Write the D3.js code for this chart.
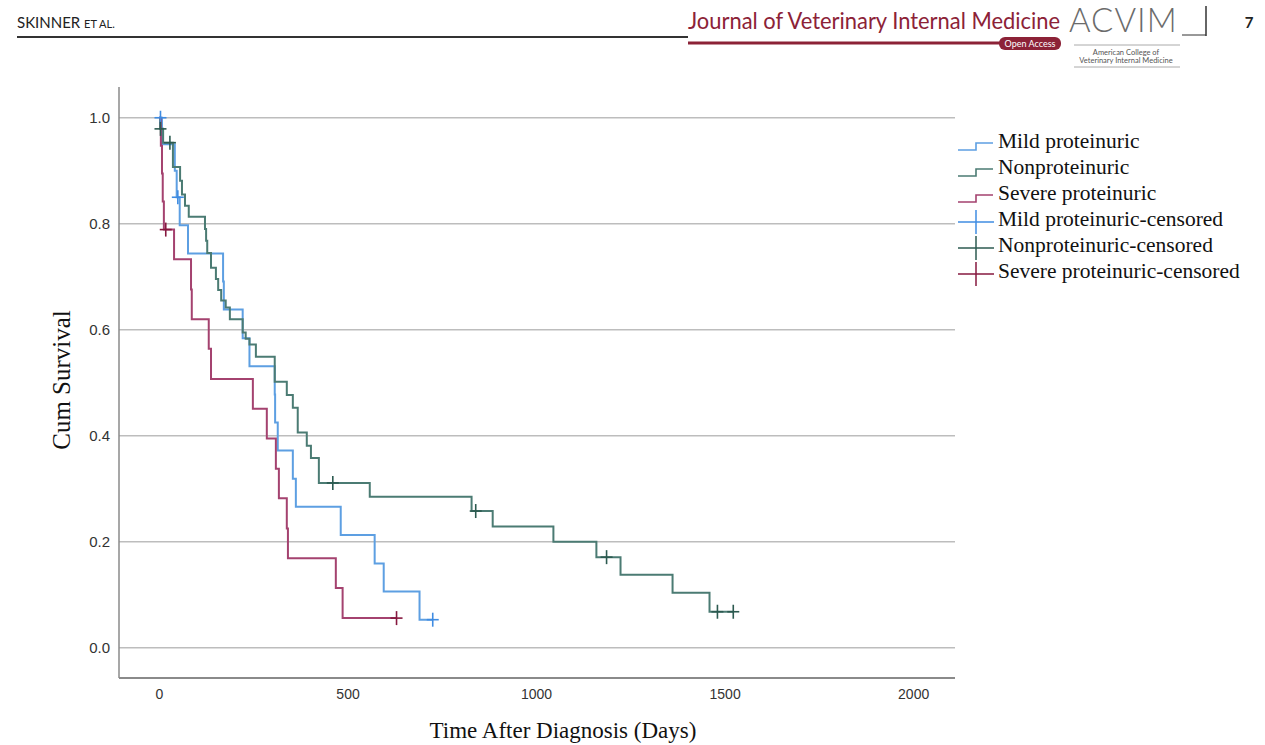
<!DOCTYPE html>
<html><head><meta charset="utf-8">
<script src="https://cdn.jsdelivr.net/npm/d3@7"></script>
<style>body{margin:0;background:#fff;}svg{display:block;}</style>
</head><body>
<svg id="chart" width="1265" height="745"></svg>
<script>
// ---------- data ----------
const xTicks = [0, 500, 1000, 1500, 2000];
const yTicks = [0.0, 0.2, 0.4, 0.6, 0.8, 1.0];
const xDomain = [-106, 2111];
const yDomain = [-0.057, 1.058];

const seriesNames = ["Mild proteinuric", "Nonproteinuric", "Severe proteinuric"];

const mildTimes = [0, 8, 42, 47, 55, 77, 170, 172, 222, 240, 307, 308, 315, 355, 363, 482, 572, 596, 691, 726];
const mildSurv  = [1.0, 0.95, 0.90, 0.85, 0.797, 0.744, 0.691, 0.638, 0.584, 0.531, 0.478, 0.425, 0.372, 0.319, 0.266, 0.213, 0.159, 0.106, 0.053, 0.053];
const mildCensorTimes = [4, 50, 726];
const mildCensorSurv  = [1.0, 0.85, 0.053];

const nonTimes = [0, 3, 11, 37, 56, 61, 69, 79, 122, 125, 128, 138, 151, 157, 165, 177, 188, 222, 230, 240, 257, 307, 339, 355, 368, 392, 403, 424, 559, 829, 885, 1046, 1160, 1224, 1362, 1460, 1523];
const nonSurv  = [1.0, 0.979, 0.953, 0.907, 0.881, 0.855, 0.834, 0.813, 0.79, 0.768, 0.745, 0.717, 0.696, 0.675, 0.655, 0.642, 0.62, 0.595, 0.583, 0.572, 0.549, 0.502, 0.477, 0.453, 0.406, 0.381, 0.358, 0.311, 0.285, 0.258, 0.229, 0.2, 0.171, 0.138, 0.104, 0.068, 0.068];
const nonCensorTimes = [4, 29, 461, 840, 1187, 1481, 1523];
const nonCensorSurv  = [0.979, 0.953, 0.311, 0.258, 0.171, 0.068, 0.068];

const sevTimes = [0, 5, 8, 10, 13, 40, 85, 87, 132, 138, 249, 286, 310, 318, 339, 342, 469, 487, 630];
const sevSurv  = [1.0, 0.947, 0.895, 0.842, 0.789, 0.733, 0.676, 0.620, 0.564, 0.507, 0.451, 0.395, 0.338, 0.282, 0.225, 0.169, 0.113, 0.056, 0.056];
const sevCensorTimes = [18, 630];
const sevCensorSurv  = [0.789, 0.056];

const lineColors   = ["#5d9fe2", "#4b7b73", "#a4426f"];
const censorColors = ["#3f8ce2", "#2c5a50", "#86183f"];

// ---------- scales ----------
const svg = d3.select("#chart");
const x = d3.scaleLinear().domain(xDomain).range([119, 955]);
const y = d3.scaleLinear().domain(yDomain).range([678, 87]);

// ---------- header ----------
const hdr = svg.append("g");
hdr.append("text").attr("x", 17).attr("y", 28)
  .attr("font-family", "Lato, 'Open Sans', sans-serif").attr("font-size", 15).attr("fill", "#222")
  .text("SKINNER ").append("tspan").attr("font-size", 11).text("ET AL.");
hdr.append("line").attr("x1", 17).attr("x2", 688).attr("y1", 37).attr("y2", 37)
  .attr("stroke", "#333").attr("stroke-width", 2);
hdr.append("text").attr("x", 688).attr("y", 29)
  .attr("font-family", "Lato, 'Open Sans', sans-serif").attr("font-size", 23).attr("fill", "#8c2237")
  .attr("textLength", 372).attr("lengthAdjust", "spacingAndGlyphs")
  .text("Journal of Veterinary Internal Medicine");
hdr.append("line").attr("x1", 688).attr("x2", 1000).attr("y1", 43).attr("y2", 43)
  .attr("stroke", "#8c2237").attr("stroke-width", 3);
hdr.append("rect").attr("x", 999).attr("y", 37).attr("width", 62).attr("height", 13).attr("rx", 6)
  .attr("fill", "#8c2237");
hdr.append("text").attr("x", 1030).attr("y", 47).attr("text-anchor", "middle")
  .attr("font-family", "Lato, sans-serif").attr("font-size", 9).attr("fill", "#fff").text("Open Access");
hdr.append("text").attr("x", 1069).attr("y", 32)
  .attr("font-family", "Lato, sans-serif").attr("font-weight", 300).attr("font-size", 33).attr("fill", "#6b6b6b")
  .attr("letter-spacing", 1).text("ACVIM");
hdr.append("line").attr("x1", 1182).attr("x2", 1206).attr("y1", 35).attr("y2", 35)
  .attr("stroke", "#333").attr("stroke-width", 1);
hdr.append("line").attr("x1", 1206).attr("x2", 1206).attr("y1", 6).attr("y2", 36)
  .attr("stroke", "#333").attr("stroke-width", 1.5);
hdr.append("line").attr("x1", 1074).attr("x2", 1180).attr("y1", 45).attr("y2", 45)
  .attr("stroke", "#aaa").attr("stroke-width", 1);
hdr.append("text").attr("x", 1126).attr("y", 55).attr("text-anchor", "middle")
  .attr("font-family", "Lato, sans-serif").attr("font-size", 7.5).attr("fill", "#555").text("American College of");
hdr.append("text").attr("x", 1126).attr("y", 63).attr("text-anchor", "middle")
  .attr("font-family", "Lato, sans-serif").attr("font-size", 7.5).attr("fill", "#555").text("Veterinary Internal Medicine");
hdr.append("line").attr("x1", 1074).attr("x2", 1180).attr("y1", 67).attr("y2", 67)
  .attr("stroke", "#aaa").attr("stroke-width", 1);
hdr.append("text").attr("x", 1249).attr("y", 28).attr("text-anchor", "middle")
  .attr("font-family", "Lato, sans-serif").attr("font-weight", 700).attr("font-size", 15).attr("fill", "#222").text("7");

// ---------- grid ----------
svg.append("g").selectAll("line").data(yTicks).join("line")
  .attr("x1", x(xDomain[0])).attr("x2", x(xDomain[1]))
  .attr("y1", d => y(d)).attr("y2", d => y(d))
  .attr("stroke", "#bdbdbd").attr("stroke-width", 1.5);

// axes lines
svg.append("line").attr("x1", x(xDomain[0])).attr("x2", x(xDomain[0]))
  .attr("y1", y(yDomain[1])).attr("y2", y(yDomain[0])).attr("stroke", "#8a8a8a").attr("stroke-width", 1.5);
svg.append("line").attr("x1", x(xDomain[0])).attr("x2", x(xDomain[1]))
  .attr("y1", y(yDomain[0])).attr("y2", y(yDomain[0])).attr("stroke", "#8a8a8a").attr("stroke-width", 2);

const yAxis = svg.append("g").attr("transform", `translate(${x(xDomain[0])},0)`)
  .call(d3.axisLeft(y).tickValues(yTicks).tickFormat(d3.format(".1f")).tickSize(0).tickPadding(9));
yAxis.select(".domain").remove();
yAxis.selectAll("text").attr("font-family", "'Liberation Sans', Arial, sans-serif").attr("font-size", 15).attr("fill", "#333");

const xAxis = svg.append("g").attr("transform", `translate(0,${y(yDomain[0])})`)
  .call(d3.axisBottom(x).tickValues(xTicks).tickFormat(d3.format("d")).tickSize(0).tickPadding(11));
xAxis.select(".domain").remove();
xAxis.selectAll("text").attr("font-family", "'Liberation Sans', Arial, sans-serif").attr("font-size", 14).attr("fill", "#333");

// axis titles
svg.append("text").attr("transform", "translate(70,380) rotate(-90)").attr("text-anchor", "middle")
  .attr("font-family", "'Liberation Serif', 'Times New Roman', serif").attr("font-size", 25).attr("fill", "#111")
  .text("Cum Survival");
svg.append("text").attr("x", 563).attr("y", 738).attr("text-anchor", "middle")
  .attr("font-family", "'Liberation Serif', 'Times New Roman', serif").attr("font-size", 23).attr("fill", "#111")
  .text("Time After Diagnosis (Days)");

// ---------- curves ----------
const series = [
  {times: mildTimes, surv: mildSurv, ct: mildCensorTimes, cs: mildCensorSurv},
  {times: nonTimes, surv: nonSurv, ct: nonCensorTimes, cs: nonCensorSurv},
  {times: sevTimes, surv: sevSurv, ct: sevCensorTimes, cs: sevCensorSurv}
];
const line = d3.line().x(d => x(d[0])).y(d => y(d[1])).curve(d3.curveStepAfter);
series.forEach((s, i) => {
  const pts = s.times.map((t, k) => [t, s.surv[k]]);
  svg.append("path").datum(pts).attr("d", line).attr("fill", "none")
    .attr("stroke", lineColors[i]).attr("stroke-width", 2);
});
series.forEach((s, i) => {
  const g = svg.append("g").attr("stroke", censorColors[i]).attr("stroke-width", 1.6);
  s.ct.forEach((t, k) => {
    const cx = x(t), cy = y(s.cs[k]);
    g.append("line").attr("x1", cx - 6).attr("x2", cx + 6).attr("y1", cy).attr("y2", cy);
    g.append("line").attr("x1", cx).attr("x2", cx).attr("y1", cy - 7).attr("y2", cy + 7);
  });
});

// ---------- legend ----------
const legendLabels = [
  seriesNames[0], seriesNames[1], seriesNames[2],
  seriesNames[0] + "-censored", seriesNames[1] + "-censored", seriesNames[2] + "-censored"
];
const lg = svg.append("g");
legendLabels.forEach((lab, i) => {
  const cy = 141 + i * 26;
  const ci = i % 3;
  if (i < 3) {
    lg.append("path").attr("d", `M958,${cy + 9}H976V${cy + 2}H993`)
      .attr("fill", "none").attr("stroke", lineColors[ci]).attr("stroke-width", 1.6);
  } else {
    lg.append("line").attr("x1", 958).attr("x2", 994).attr("y1", cy + 3).attr("y2", cy + 3)
      .attr("stroke", censorColors[ci]).attr("stroke-width", 1.5);
    lg.append("line").attr("x1", 976).attr("x2", 976).attr("y1", cy - 9).attr("y2", cy + 15)
      .attr("stroke", censorColors[ci]).attr("stroke-width", 1.5);
  }
  lg.append("text").attr("x", 998).attr("y", cy + 7)
    .attr("font-family", "'Liberation Serif', 'Times New Roman', serif").attr("font-size", 21.5).attr("fill", "#111")
    .text(lab);
});
</script>
</body></html>
